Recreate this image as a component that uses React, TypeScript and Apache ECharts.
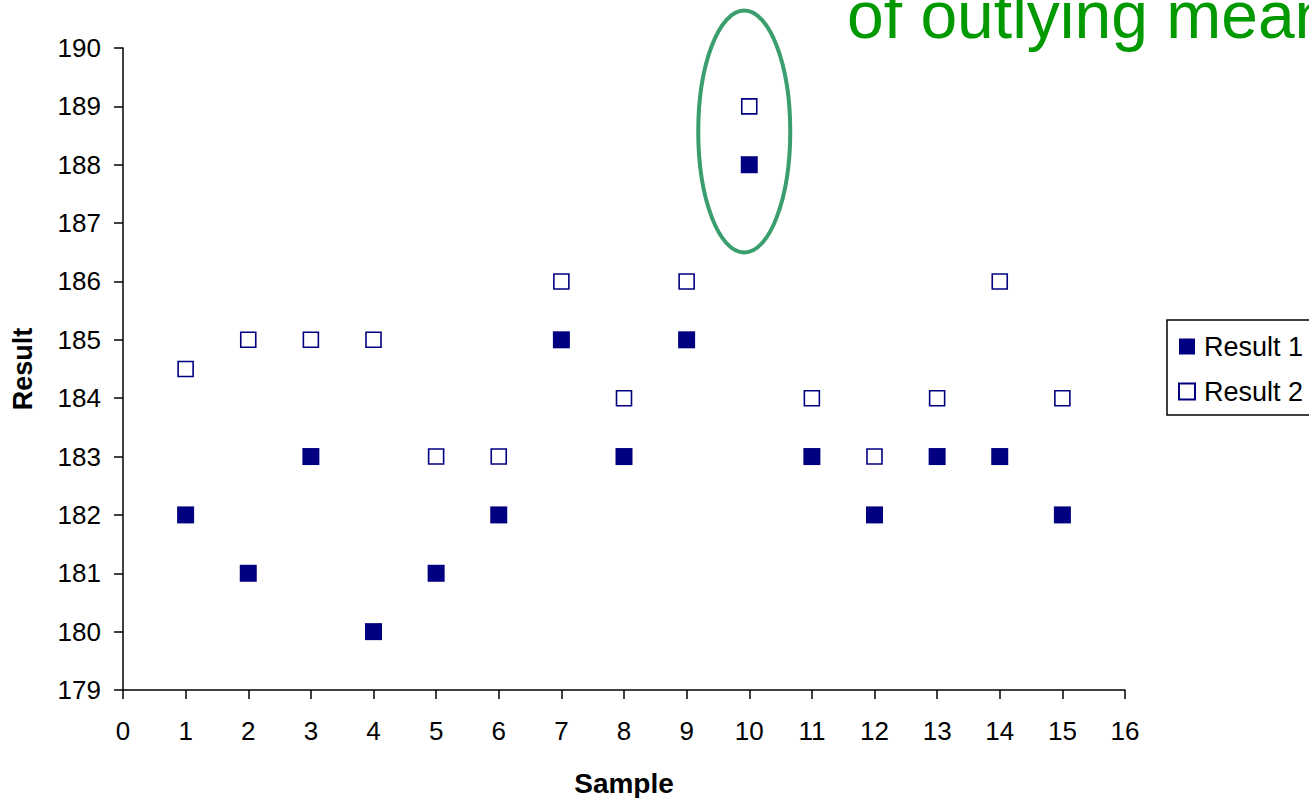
import React, { useEffect, useRef } from "react";
import * as echarts from "echarts";

const samples = [1, 2, 3, 4, 5, 6, 7, 8, 9, 10, 11, 12, 13, 14, 15];
const result1 = [182, 181, 183, 180, 181, 182, 185, 183, 185, 188, 183, 182, 183, 183, 182];
const result2 = [184.5, 185, 185, 185, 183, 183, 186, 184, 186, 189, 184, 183, 184, 186, 184];
const seriesNames = ["Result 1", "Result 2"];
const titleText = "of outlying mean";
const outlierSample = 10;
const outlierCenter = 188.5;

const FONT = "'Liberation Sans', Arial, sans-serif";

export default function App() {
  const ref = useRef<HTMLDivElement>(null);
  useEffect(() => {
    if (!ref.current) return;
    const chart = echarts.init(ref.current, undefined, { renderer: "svg" });
    const navy = "#000080";
    const axisCommon = {
      axisLine: { show: true, lineStyle: { color: "#000", width: 1.5 } },
      axisTick: { show: true, inside: false, length: 9, lineStyle: { color: "#000", width: 1.5 } },
      splitLine: { show: false },
    };
    chart.setOption({
      animation: false,
      backgroundColor: "#fff",
      textStyle: { fontFamily: FONT },
      grid: { left: 123, right: 184, top: 48, bottom: 108, containLabel: false, outerBoundsMode: "none" },
      xAxis: {
        type: "value",
        min: 0,
        max: 16,
        interval: 1,
        name: "Sample",
        nameLocation: "middle",
        nameGap: 79,
        nameTextStyle: { fontFamily: FONT, fontSize: 28, fontWeight: "bold", color: "#000" },
        ...axisCommon,
        axisLabel: { fontFamily: FONT, fontSize: 26, color: "#000", margin: 28 },
      },
      yAxis: {
        type: "value",
        min: 179,
        max: 190,
        interval: 1,
        name: "Result",
        nameLocation: "middle",
        nameGap: 87,
        nameTextStyle: { fontFamily: FONT, fontSize: 27, fontWeight: "bold", color: "#000" },
        ...axisCommon,
        axisLabel: { fontFamily: FONT, fontSize: 26, color: "#000", margin: 22 },
      },
      legend: {
        orient: "vertical",
        left: 1167,
        top: 320,
        padding: [13, 30, 10, 11],
        itemGap: 18,
        itemWidth: 16,
        itemHeight: 16,
        borderColor: "#000",
        borderWidth: 1.5,
        borderRadius: 0,
        backgroundColor: "#fff",
        textStyle: { fontFamily: FONT, fontSize: 27, color: "#000", padding: [0, 0, 0, 4] },
        data: [
          { name: seriesNames[0], icon: "rect" },
          { name: seriesNames[1], icon: "rect" },
        ],
      },
      series: [
        {
          name: seriesNames[0],
          type: "scatter",
          symbol: "rect",
          symbolSize: 17,
          itemStyle: { color: navy, borderColor: navy, borderWidth: 0, opacity: 1 },
          data: samples.map((s, i) => [s, result1[i]]),
        },
        {
          name: seriesNames[1],
          type: "scatter",
          symbol: "rect",
          symbolSize: 15,
          itemStyle: { color: "#fff", borderColor: navy, borderWidth: 1.6, opacity: 1 },
          data: samples.map((s, i) => [s, result2[i]]),
        },
      ],
    });
    const c = chart.convertToPixel({ gridIndex: 0 }, [outlierSample, outlierCenter]) as number[];
    chart.setOption({
      graphic: [
        {
          type: "ellipse",
          shape: { cx: c[0] - 5, cy: c[1] - 4, rx: 46, ry: 121 },
          style: { fill: "none", stroke: "#3a9e6e", lineWidth: 4 },
          z: 10,
        },
        {
          type: "text",
          x: 847,
          y: 48,
          style: {
            text: titleText,
            fontFamily: FONT,
            fontSize: 66,
            fill: "#009900",
            align: "left",
            verticalAlign: "bottom",
          },
          z: 10,
        },
      ],
    });
    return () => chart.dispose();
  }, []);
  return (
    <div
      ref={ref}
      style={{ position: "absolute", left: 0, top: 0, width: 1309, height: 798 }}
    />
  );
}
